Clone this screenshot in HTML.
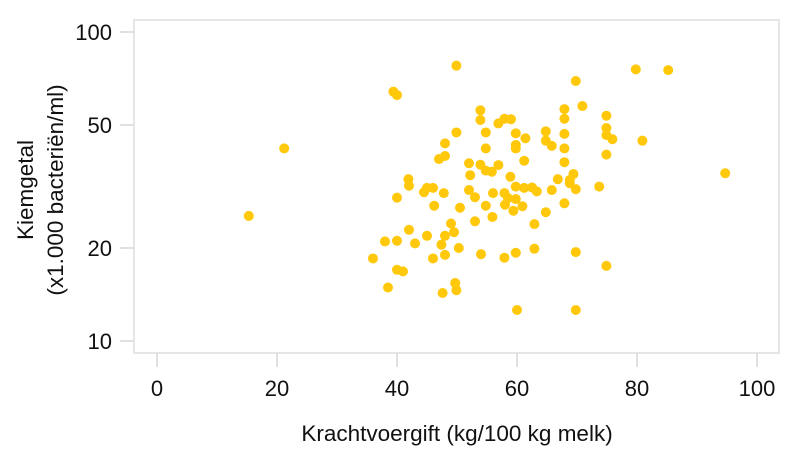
<!DOCTYPE html>
<html><head><meta charset="utf-8"><style>
body{margin:0;background:#fff;}
svg{display:block;font-family:"Liberation Sans",sans-serif;}
</style></head><body>
<svg id="chart" width="800" height="462" viewBox="0 0 800 462">
<rect x="134" y="20" width="645" height="333" fill="none" stroke="#e6e6e6" stroke-width="2"/>
<g id="axes"></g>
<g id="points"></g>
<text x="457" y="441" text-anchor="middle" font-size="22.5" fill="#111">Krachtvoergift (kg/100 kg melk)</text>
<text transform="translate(33,190) rotate(-90)" text-anchor="middle" font-size="22.5" fill="#111">Kiemgetal</text>
<text transform="translate(63,190) rotate(-90)" text-anchor="middle" font-size="22.5" fill="#111">(x1.000 bacteriën/ml)</text>
</svg>
<script>
const xTicks=[0,20,40,60,80,100];
const yTicks=[10,20,50,100];
const xValues=[49.9,39.4,40.0,21.2,15.3,53.9,53.9,56.9,57.9,59.0,49.9,54.8,59.8,48.0,54.8,59.8,59.8,48.0,47.0,52.0,53.9,56.9,54.8,55.8,52.2,58.9,41.9,42.0,59.8,45.0,46.0,44.5,47.8,52.0,53.0,56.0,57.9,58.5,59.8,40.0,46.2,50.5,54.8,58.0,59.4,55.9,53.0,49.0,49.5,48.0,42.0,45.0,38.0,40.0,43.0,47.4,50.3,36.0,46.0,48.0,54.0,57.9,59.8,40.0,41.0,38.5,49.7,49.9,47.6,60.0,79.8,85.2,69.8,70.9,67.9,67.9,74.9,64.8,67.9,74.9,74.9,75.9,80.9,61.4,64.8,65.8,67.9,74.9,61.2,67.9,94.7,66.8,69.4,68.8,68.8,69.8,73.7,61.2,62.5,63.3,65.8,60.9,64.8,67.9,62.9,62.9,69.8,74.9,69.8];
const yValues=[77.8,64.1,62.5,42.0,25.4,55.8,51.9,50.6,52.4,52.2,47.3,47.3,47.0,43.6,42.0,43.1,42.0,39.7,38.8,37.6,37.2,37.1,35.6,35.3,34.4,34.0,33.4,31.8,31.6,31.3,31.3,30.3,30.1,30.8,29.2,30.1,30.1,29.0,28.8,29.1,27.4,27.0,27.4,27.6,26.4,25.2,24.4,24.0,22.5,21.9,22.9,21.9,21.0,21.1,20.7,20.5,20.0,18.5,18.5,19.0,19.1,18.6,19.3,17.0,16.8,14.9,15.4,14.6,14.3,12.6,75.7,75.3,69.4,57.6,56.3,52.4,53.6,47.7,46.8,48.9,46.4,45.0,44.5,45.3,44.5,42.8,42.0,40.1,38.3,37.9,34.9,33.4,34.7,33.2,32.4,31.0,31.6,31.3,31.4,30.5,30.8,27.3,26.1,27.9,23.9,19.9,19.4,17.5,12.6];
const NS="http://www.w3.org/2000/svg";
function xScale(v){return 157+v*6;}
function yScale(v){return 341-(Math.log10(v)-1)*309;}
const axes=document.getElementById('axes');
const pts=document.getElementById('points');
function mk(tag,attrs,parent){const e=document.createElementNS(NS,tag);for(const k in attrs)e.setAttribute(k,attrs[k]);parent.appendChild(e);return e;}
xTicks.forEach(t=>{
  const l=mk('line',{x1:xScale(t),x2:xScale(t),y1:353,y2:367,stroke:'#e0e0e0','stroke-width':2},axes);
  
  
  const tx=mk('text',{x:xScale(t),y:396,'text-anchor':'middle','font-size':22,fill:'#111'},axes);
  tx.textContent=t;
  
  
});
yTicks.forEach(t=>{
  const l=mk('line',{x1:120,x2:134,y1:yScale(t),y2:yScale(t),stroke:'#e0e0e0','stroke-width':2},axes);
  
  
  const tx=mk('text',{x:112,y:yScale(t)+8,'text-anchor':'end','font-size':22,fill:'#111'},axes);
  tx.textContent=t;
  
  
});
xValues.forEach((x,i)=>{
  const c=mk('circle',{cx:xScale(x),cy:yScale(yValues[i]),r:5,fill:'#FFC80A'},pts);
  
  
});
</script>
</body></html>
